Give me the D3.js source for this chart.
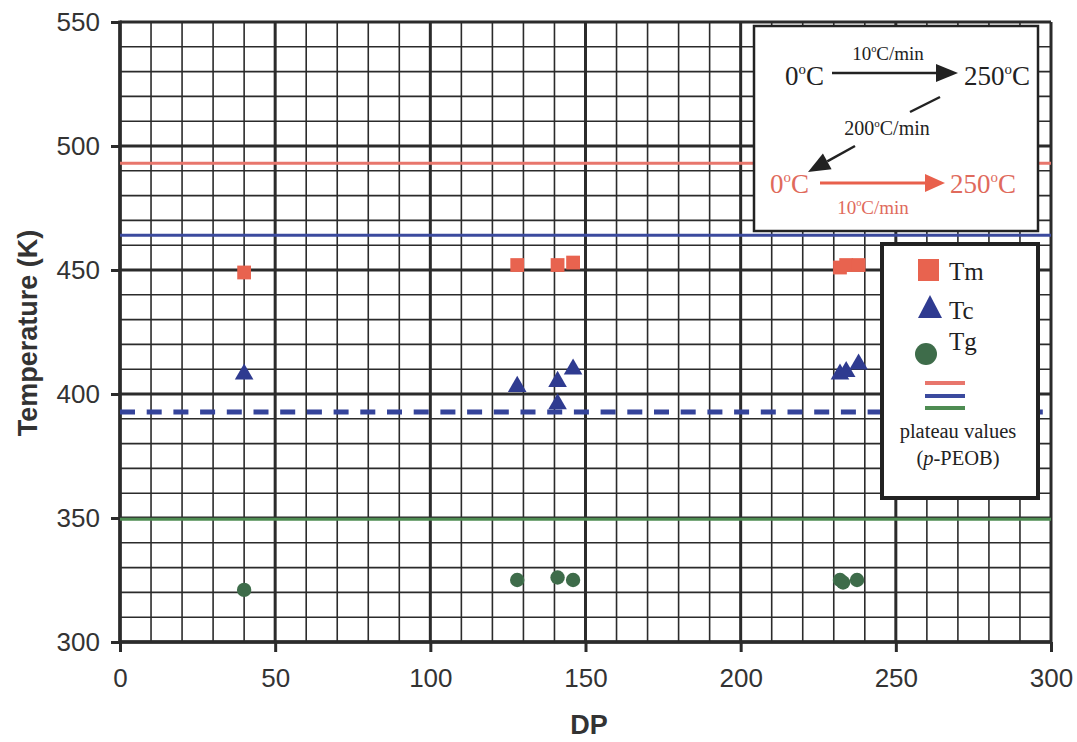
<!DOCTYPE html>
<html><head><meta charset="utf-8">
<script src="https://cdn.jsdelivr.net/npm/d3@7"></script>
<style>body{margin:0;background:#fff}svg{display:block}</style>
</head><body>
<svg id="c" width="1077" height="742"></svg>
<script>
// ---- data ----
const xTicks = [0, 50, 100, 150, 200, 250, 300];
const yTicks = [300, 350, 400, 450, 500, 550];
const tmDP  = [40, 128, 141, 146, 232, 234, 238];
const tmVal = [449, 452, 452, 453, 451, 452, 452];
const tcDP  = [40, 128, 141, 141, 146, 232, 234, 238];
const tcVal = [408, 403, 405, 396, 410, 408, 409, 412];
const tgDP  = [40, 128, 141, 146, 232, 233, 237.5];
const tgVal = [321, 325, 326, 325, 325, 324, 325];
const plateauKeys = ["Tm", "Tc", "Tc2", "Tg"];
const plateauVals = [493, 464, 392.7, 349.5];
const legendLabels = ["Tm", "Tc", "Tg"];

// ---- layout ----
const svg = d3.select("#c");
const X0 = 120, X1 = 1051, Y0 = 642, Y1 = 22;
const x = d3.scaleLinear().domain([0, 300]).range([X0, X1]);
const y = d3.scaleLinear().domain([300, 550]).range([Y0, Y1]);
const dark = "#2b2b2b";

const grid = svg.append("g");
d3.range(0, 301, 10).forEach(v => {
  const major = v % 50 === 0;
  grid.append("line").attr("x1", x(v)).attr("x2", x(v)).attr("y1", y(300)).attr("y2", y(550))
    .attr("stroke", dark).attr("stroke-width", major ? 3 : 1.6);
});
d3.range(300, 551, 10).forEach(v => {
  const major = v % 50 === 0;
  grid.append("line").attr("x1", x(0)).attr("x2", x(300)).attr("y1", y(v)).attr("y2", y(v))
    .attr("stroke", dark).attr("stroke-width", major ? 3 : 1.6);
});

// axes
const yAxis = svg.append("g").attr("transform", `translate(${X0},0)`)
  .call(d3.axisLeft(y).tickValues(yTicks).tickSize(9).tickPadding(11));
const xAxis = svg.append("g").attr("transform", `translate(0,${Y0})`)
  .call(d3.axisBottom(x).tickValues(xTicks).tickSize(10).tickPadding(17));
[yAxis, xAxis].forEach(a => {
  a.select(".domain").remove();
  a.selectAll(".tick line").attr("stroke", dark).attr("stroke-width", 3);
  a.selectAll(".tick text").attr("font-family", "Liberation Sans, Arial, sans-serif")
    .attr("font-size", 26).attr("fill", "#333");
});
svg.append("line").attr("x1", X0).attr("x2", X0).attr("y1", Y1 - 1.5).attr("y2", Y0 + 1.5).attr("stroke", dark).attr("stroke-width", 3.5);
svg.append("line").attr("x1", X0).attr("x2", X1).attr("y1", Y0).attr("y2", Y0).attr("stroke", dark).attr("stroke-width", 3.5);

// axis titles
svg.append("text").attr("x", 589).attr("y", 734).attr("text-anchor", "middle")
  .attr("font-family", "Liberation Sans, Arial, sans-serif").attr("font-weight", "bold")
  .attr("font-size", 27).attr("fill", "#333").text("DP");
svg.append("text").attr("transform", "translate(37,333) rotate(-90)").attr("text-anchor", "middle")
  .attr("font-family", "Liberation Sans, Arial, sans-serif").attr("font-weight", "bold")
  .attr("font-size", 27).attr("fill", "#333").text("Temperature (K)");

// plateau lines
const plateauStyle = {
  Tm: {c: "#e8766c", w: 3, d: null},
  Tc: {c: "#3b4a9e", w: 3, d: null},
  Tc2: {c: "#34439a", w: 5, d: "15,11.7"},
  Tg: {c: "#4e8c52", w: 3, d: null}
};
plateauKeys.forEach((k, i) => {
  const s = plateauStyle[k];
  svg.append("line").attr("x1", x(0)).attr("x2", x(300))
    .attr("y1", y(plateauVals[i])).attr("y2", y(plateauVals[i]))
    .attr("stroke", s.c).attr("stroke-width", s.w).attr("stroke-dasharray", s.d);
});

// data markers
const cM = "#e8634f", cC = "#2f3b90", cG = "#3e6c4a";
const pts = svg.append("g");
tmDP.forEach((d, i) => pts.append("path").attr("d", d3.symbol(d3.symbolSquare, 190)())
  .attr("transform", `translate(${x(d)},${y(tmVal[i])})`).attr("fill", cM));
tcDP.forEach((d, i) => pts.append("path").attr("d", d3.symbol(d3.symbolTriangle, 150)())
  .attr("transform", `translate(${x(d)},${y(tcVal[i])})`).attr("fill", cC));
tgDP.forEach((d, i) => pts.append("circle").attr("r", 7.2)
  .attr("cx", x(d)).attr("cy", y(tgVal[i])).attr("fill", cG));

// ---- legend 1 (heating protocol) ----
const serif = "Liberation Serif, Times New Roman, serif";
svg.append("rect").attr("x", 754).attr("y", 26).attr("width", 284).attr("height", 205)
  .attr("fill", "#fff").attr("stroke", "#222").attr("stroke-width", 2.5);
function label(tx, ty, a, b, size, color, anchor) {
  const t = svg.append("text").attr("x", tx).attr("y", ty).attr("font-family", serif)
    .attr("font-size", size).attr("fill", color).attr("text-anchor", anchor || "start");
  t.append("tspan").text(a);
  t.append("tspan").attr("font-size", size * 0.55).attr("dy", -size * 0.42).text("o");
  t.append("tspan").attr("dy", size * 0.42).text(b);
}
const red = "#e06a5c";
label(785, 85, "0", "C", 27, "#222");
label(964, 85, "250", "C", 27, "#222");
label(888, 60, "10", "C/min", 19, "#222", "middle");
label(887, 135, "200", "C/min", 20, "#222", "middle");
label(770, 193, "0", "C", 27, red);
label(950, 193, "250", "C", 27, red);
label(873, 214, "10", "C/min", 19, red, "middle");

function arrow(xa, ya, xb, yb, color, w, hl, hw) {
  const ang = Math.atan2(yb - ya, xb - xa);
  const bx = xb - hl * Math.cos(ang), by = yb - hl * Math.sin(ang);
  svg.append("line").attr("x1", xa).attr("y1", ya).attr("x2", bx).attr("y2", by)
    .attr("stroke", color).attr("stroke-width", w);
  const px = -Math.sin(ang) * hw, py = Math.cos(ang) * hw;
  svg.append("path").attr("d", `M${xb},${yb}L${bx + px},${by + py}L${bx - px},${by - py}Z`).attr("fill", color);
}
arrow(832, 73, 958, 73, "#222", 2.5, 22, 9);
svg.append("line").attr("x1", 940).attr("y1", 97).attr("x2", 910).attr("y2", 112)
  .attr("stroke", "#222").attr("stroke-width", 2.5);
arrow(855, 146, 808, 172, "#222", 2.5, 22, 9);
arrow(820, 183, 945, 183, "#e8604c", 3, 20, 9);

// ---- legend 2 ----
svg.append("rect").attr("x", 882).attr("y", 244).attr("width", 156).attr("height", 254)
  .attr("fill", "#fff").attr("stroke", "#222").attr("stroke-width", 4);
const lg = svg.append("g");
lg.append("rect").attr("x", 918).attr("y", 259).attr("width", 21).attr("height", 22).attr("fill", cM);
lg.append("path").attr("d", `M930,295L942,318L918,318Z`).attr("fill", cC);
lg.append("circle").attr("cx", 926).attr("cy", 354).attr("r", 11).attr("fill", cG);
const legY = [280, 319, 350];
legendLabels.forEach((t, i) => lg.append("text").attr("x", 949).attr("y", legY[i])
  .attr("font-family", serif).attr("font-size", 25).attr("fill", "#222").text(t));
[[383, "#e8766c"], [396, "#3b4a9e"], [408, "#4e8c52"]].forEach(([yy, c]) =>
  lg.append("line").attr("x1", 925).attr("x2", 965).attr("y1", yy).attr("y2", yy)
    .attr("stroke", c).attr("stroke-width", 4));
lg.append("text").attr("x", 958).attr("y", 438).attr("text-anchor", "middle")
  .attr("font-family", serif).attr("font-size", 20.5).attr("fill", "#222").text("plateau values");
const pp = lg.append("text").attr("x", 958).attr("y", 465).attr("text-anchor", "middle")
  .attr("font-family", serif).attr("font-size", 20.5).attr("fill", "#222");
pp.append("tspan").text("(");
pp.append("tspan").attr("font-style", "italic").text("p");
pp.append("tspan").text("-PEOB)");
</script>
</body></html>
